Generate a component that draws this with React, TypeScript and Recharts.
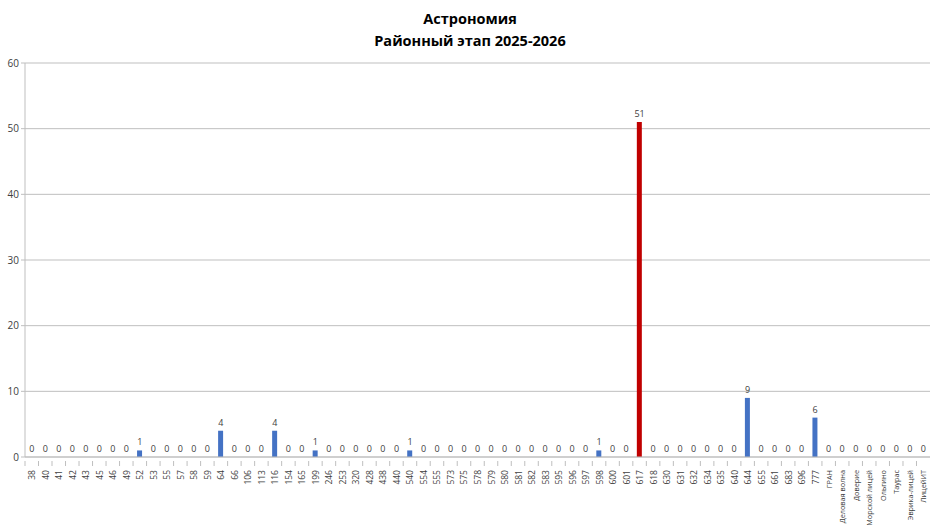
import React from "react";
import { ComposedChart, Bar, Line, XAxis, YAxis, CartesianGrid, Cell } from "recharts";

const categories: string[] = [
  "38", "40", "41", "42", "43", "45", "46", "49", "52", "53", "55", "57", "58", "59",
  "64", "66", "106", "113", "116", "154", "165", "199",
  "246", "253", "320", "428", "438", "440",
  "540", "554", "555", "573", "575", "578", "579", "580", "581", "582", "583", "595", "596", "597", "598", "600", "601",
  "617", "618", "630", "631", "632", "634", "635", "640", "644", "655", "661", "683", "696", "777",
  "ГРАН", "Деловая волна", "Доверие", "Морской лицей", "Ольгино", "Таурас", "Эврика-лицей", "ЛицейИТ",
];

const values: number[] = [
  0, 0, 0, 0, 0, 0, 0, 0, 1, 0, 0, 0, 0, 0,
  4, 0, 0, 0, 4, 0, 0, 1,
  0, 0, 0, 0, 0, 0,
  1, 0, 0, 0, 0, 0, 0, 0, 0, 0, 0, 0, 0, 0, 1, 0, 0,
  51, 0, 0, 0, 0, 0, 0, 0, 9, 0, 0, 0, 0, 6,
  0, 0, 0, 0, 0, 0, 0, 0,
];

const highlighted = "617";
const yTicks = [0, 10, 20, 30, 40, 50, 60];

const data = categories.map((name, i) => ({ name, value: values[i] }));

const W = 940;
const H = 529;
const LEFT = 25;
const RIGHT = 10;
const FONT = "'Open Sans', 'Noto Sans', sans-serif";
const step = (W - LEFT - RIGHT) / categories.length;

const XTick = (props: any) => {
  const { x, y, payload } = props;
  const isNum = /^\d+$/.test(String(payload.value));
  return (
    <g>
      <line x1={x - step / 2} x2={x - step / 2} y1={y - 4} y2={y + 1} stroke="#BFBFBF" />
      <text
        x={x}
        y={y + 5}
        transform={`rotate(-90, ${x}, ${y + 5})`}
        textAnchor="end"
        dominantBaseline="central"
        fontSize={isNum ? 8.5 : 7.3}
        fill="#404040"
        fontFamily={FONT}
      >
        {payload.value}
      </text>
    </g>
  );
};

const ValueLabel = (props: any) => {
  const { x, y, value, index } = props;
  return (
    <text
      key={`lbl-${index}`}
      x={Number(x)}
      y={Number(y) - 5}
      textAnchor="middle"
      fontSize={9}
      fill="#404040"
      fontFamily={FONT}
    >
      {value}
    </text>
  );
};

export default function App() {
  return (
    <div style={{ position: "absolute", left: 0, top: 0, width: W, height: H, background: "#fff" }}>
      <div
        style={{
          position: "absolute",
          left: 0,
          top: 8,
          width: W,
          textAlign: "center",
          fontFamily: FONT,
          fontWeight: 700,
          fontSize: 14.5,
          lineHeight: "22px",
          color: "#000",
        }}
      >
        <div>Астрономия</div>
        <div>Районный этап 2025-2026</div>
      </div>
      <ComposedChart
        width={W}
        height={H}
        data={data}
        margin={{ top: 63, right: RIGHT, left: 0, bottom: 0 }}
        barCategoryGap={0}
      >
        <CartesianGrid vertical={false} stroke="#BFBFBF" />
        <XAxis
          dataKey="name"
          interval={0}
          height={72}
          axisLine={{ stroke: "#BFBFBF" }}
          tickLine={false}
          tick={<XTick />}
        />
        <YAxis
          width={LEFT}
          domain={[0, 60]}
          ticks={yTicks}
          axisLine={{ stroke: "#BFBFBF" }}
          tickLine={{ stroke: "#BFBFBF" }}
          tickSize={4}
          tick={{ fontSize: 10, fill: "#404040", fontFamily: FONT }}
        />
        <Bar dataKey="value" barSize={5} isAnimationActive={false}>
          {data.map((d) => (
            <Cell key={d.name} fill={d.name === highlighted ? "#C00000" : "#4472C4"} />
          ))}
        </Bar>
        <Line
          dataKey="value"
          stroke="none"
          dot={false}
          activeDot={false}
          legendType="none"
          isAnimationActive={false}
          label={<ValueLabel />}
        />
      </ComposedChart>
    </div>
  );
}
